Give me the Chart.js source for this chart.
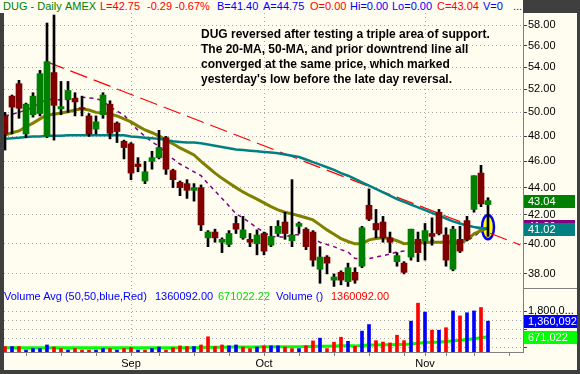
<!DOCTYPE html>
<html>
<head>
<meta charset="utf-8">
<script src="https://cdn.jsdelivr.net/npm/chart.js@4.4.1/dist/chart.umd.min.js"></script>
<style>
  html, body { margin: 0; padding: 0; }
  body {
    width: 580px; height: 374px; position: relative; overflow: hidden;
    background: #3f3f3f; font-family: "Liberation Sans", Arial, sans-serif;
  }
  #head { position: absolute; left: 0; top: 0; width: 523px; height: 13px; background: #fffcf0; }
  .t { position: absolute; font-size: 11px; line-height: 13px; white-space: nowrap; }
  .panel { position: absolute; left: 4px; background: #fffcf0; }
  #pricePanel { top: 13px; width: 573px; height: 275px; }
  #volPanel { top: 288px; width: 573px; height: 82px; }
  #sep { position: absolute; left: 523px; top: 288px; width: 54px; height: 1px; background: #808080; }
  #note {
    position: absolute; left: 201px; top: 27px; font-weight: bold; font-size: 12px;
    line-height: 15px; color: #000; white-space: nowrap;
  }
</style>
</head>
<body>
<div id="head"></div>
<div class="t" style="left:3px;top:0;color:#008000">DUG - Daily</div>
<div class="t" style="left:65px;top:0;color:#008000">AMEX</div>
<div class="t" style="left:100px;top:0;color:#ff0000">L=42.75</div>
<div class="t" style="left:147px;top:0;color:#ff0000">-0.29</div>
<div class="t" style="left:175px;top:0;color:#ff0000">-0.67%</div>
<div class="t" style="left:217px;top:0;color:#0000ff">B=41.40</div>
<div class="t" style="left:263px;top:0;color:#0000ff">A=44.75</div>
<div class="t" style="left:310px;top:0;color:#ff0000">O=0.00</div>
<div class="t" style="left:350px;top:0;color:#0000ff">Hi=0.00</div>
<div class="t" style="left:392px;top:0;color:#0000ff">Lo=0.00</div>
<div class="t" style="left:437px;top:0;color:#ff0000" id="closeTxt">C=43.04</div>
<div class="t" style="left:483px;top:0;color:#0000ff">V=0</div>
<div class="t" style="left:513px;top:0;color:#0000ff">...</div>

<div class="panel" id="pricePanel"><canvas id="price" width="573" height="275"></canvas></div>
<div class="panel" id="volPanel"><canvas id="vol" width="573" height="82"></canvas></div>
<div id="sep"></div>

<div id="note">DUG reversed after testing a triple area of support.<br>The 20-MA, 50-MA, and prior downtrend line all<br>converged at the same price, which marked<br>yesterday's low before the late day reversal.</div>

<div class="t" style="left:4px;top:290px;color:#0000ff">Volume Avg (50,50,blue,Red)</div>
<div class="t" style="left:155px;top:290px;color:#0000ff" id="vTxt1"></div>
<div class="t" style="left:218px;top:290px;color:#00e000" id="vTxt2"></div>
<div class="t" style="left:276px;top:290px;color:#0000ff">Volume ()</div>
<div class="t" style="left:331px;top:290px;color:#ff0000" id="vTxt3"></div>

<script>
// daily candles, Aug .. Nov
const opens = [49.7, 51.4, 52.5, 48.2, 49.8, 49.9, 48.0, 53.5, 50.3, 51.1,
  51.2, 50.4, 49.7, 48.6, 49.8, 50.7, 49.1, 47.6, 47.4, 45.8,
  44.5, 46.0, 46.3, 47.9, 45.3, 44.4, 44.3, 43.8, 44.0, 40.4,
  40.8, 40.1, 39.95, 41.4, 40.4, 40.3, 40.0, 40.7, 39.9, 40.7,
  41.5, 40.2, 41.2, 41.0, 40.8, 38.3, 39.1, 37.6, 38.1, 37.5,
  38.1, 38.5, 42.7, 41.4, 41.5, 40.4, 38.8, 38.7, 39.1, 40.3,
  40.2, 40.7, 42.2, 40.6, 38.3, 40.3, 41.6, 42.4, 45.1, 42.75];
const highs = [50.0, 51.5, 52.8, 50.8, 51.7, 53.7, 58.2, 59.0, 52.7, 52.7,
  51.7, 51.4, 49.9, 49.7, 51.7, 51.0, 49.2, 47.7, 47.5, 46.3,
  46.0, 46.8, 48.5, 48.0, 45.4, 44.5, 44.6, 44.3, 44.2, 40.9,
  41.0, 40.4, 40.9, 41.9, 41.9, 40.7, 40.95, 40.8, 41.2, 41.6,
  42.2, 44.6, 41.5, 41.1, 40.9, 39.8, 39.2, 38.0, 38.2, 38.7,
  38.4, 41.2, 43.9, 42.4, 41.9, 40.8, 39.4, 38.8, 41.0, 40.8,
  41.4, 41.8, 42.4, 41.1, 41.2, 41.2, 41.9, 44.9, 45.7, 43.25];
const lows = [46.9, 48.2, 49.5, 47.9, 49.6, 49.7, 47.9, 47.7, 49.8, 50.0,
  49.7, 49.7, 48.0, 48.2, 49.5, 47.8, 47.5, 46.2, 44.6, 45.2,
  44.3, 45.4, 46.2, 45.0, 44.0, 43.4, 43.2, 43.0, 40.9, 39.8,
  40.1, 39.4, 39.8, 40.7, 40.3, 39.8, 39.25, 39.25, 39.8, 40.5,
  40.3, 39.8, 40.7, 39.6, 38.5, 37.4, 38.0, 37.2, 37.3, 37.2,
  37.4, 38.4, 41.6, 40.4, 40.1, 39.4, 38.5, 38.0, 38.9, 38.8,
  38.9, 39.9, 40.6, 38.5, 38.2, 39.4, 40.2, 42.2, 42.6, 40.5];
const closes = [48.2, 50.45, 50.35, 50.7, 51.4, 53.4, 54.5, 50.6, 50.5, 51.9,
  50.9, 50.3, 48.2, 49.2, 51.5, 48.25, 48.4, 47.1, 45.1, 45.6,
  45.2, 46.3, 47.1, 45.4, 44.6, 44.0, 43.8, 44.0, 41.3, 40.8,
  40.4, 40.3, 40.7, 41.0, 40.95, 40.1, 40.6, 39.5, 40.5, 41.2,
  40.7, 40.6, 41.4, 39.8, 38.9, 39.1, 38.7, 37.8, 37.6, 38.4,
  37.6, 41.1, 41.7, 40.95, 40.4, 40.1, 39.2, 38.1, 41.0, 39.4,
  40.9, 40.5, 40.7, 38.9, 41.0, 39.5, 40.3, 44.9, 42.8, 43.04];
const prevClose = 48.6; // close of the day before the first candle

// moving averages
const ma50 = [47.8, 47.85, 47.9, 47.95, 48.0, 48.0, 48.05, 48.05, 48.05, 48.1,
  48.1, 48.1, 48.1, 48.1, 48.1, 48.1, 48.1, 48.1, 48.0, 47.95,
  47.9, 47.85, 47.8, 47.7, 47.6, 47.55, 47.5, 47.5, 47.45, 47.35,
  47.25, 47.15, 47.05, 46.95, 46.9, 46.85, 46.8, 46.75, 46.7, 46.65,
  46.55, 46.45, 46.35, 46.15, 45.95, 45.75, 45.55, 45.35, 45.1, 44.9,
  44.65, 44.4, 44.15, 43.9, 43.65, 43.4, 43.15, 42.95, 42.75, 42.55,
  42.35, 42.15, 41.95, 41.75, 41.55, 41.4, 41.25, 41.15, 41.08, 41.02];
const ma20 = [48.1, 48.3, 48.45, 48.8, 49.1, 49.45, 49.78, 49.85, 49.95, 50.05,
  50.2, 50.3, 50.2, 50.0, 49.95, 49.86, 49.7, 49.45, 49.2, 48.85,
  48.53, 48.3, 48.04, 47.7, 47.4, 47.07, 46.8, 46.51, 46.0, 45.55,
  45.1, 44.7, 44.35, 44.0, 43.68, 43.4, 43.15, 42.87, 42.6, 42.37,
  42.2, 42.08, 41.95, 41.8, 41.65, 41.3, 40.95, 40.65, 40.35, 40.15,
  39.99, 40.0, 40.26, 40.35, 40.4, 40.35, 40.2, 40.0, 40.03, 40.06,
  40.08, 40.1, 40.1, 40.12, 40.13, 40.13, 40.26, 40.68, 40.9, 41.1];
const ma10 = [49.7, 49.85, 50.0, 50.2, 50.45, 50.8, 51.1, 51.1, 51.06, 51.1,
  51.2, 51.3, 51.25, 51.2, 50.97, 50.5, 50.1, 49.78, 49.1, 48.5,
  48.0, 47.55, 47.2, 46.7, 46.2, 45.8, 45.5, 45.2, 44.9, 44.3,
  43.75, 43.2, 42.65, 42.08, 41.8, 41.45, 41.09, 40.8, 40.5, 40.45,
  40.47, 40.61, 40.61, 40.5, 40.35, 40.1, 39.95, 39.8, 39.6, 39.45,
  39.0, 39.0, 39.0, 39.1, 39.2, 39.3, 39.45, 39.5, 39.6, 39.8,
  40.0, 40.26, 40.1, 40.0, 40.0, 40.0, 40.2, 40.5, 40.88, 41.2];

// downtrend line (bar index, price)
const trendX = [6, 73.6];
const trendY = [54.48, 39.92];

// circled low on the last bar
const markIdx = 69;
const markLow = 40.3;
const markHigh = 42.0;

const volumes = [240000, 240000, 240000, 90000, 150000, 150000, 310000, 220000, 150000, 90000,
  150000, 90000, 90000, 90000, 150000, 150000, 90000, 150000, 190000, 90000,
  90000, 150000, 220000, 90000, 190000, 270000, 240000, 240000, 310000, 670000,
  240000, 310000, 270000, 310000, 220000, 150000, 220000, 270000, 270000, 270000,
  220000, 150000, 150000, 270000, 490000, 610000, 150000, 430000, 650000, 470000,
  250000, 920000, 1210000, 500000, 440000, 400000, 740000, 500000, 1360000, 2150000,
  1760000, 960000, 960000, 1070000, 1810000, 1590000, 1730000, 1810000, 1960000, 1360092];
const volAvg = [190000, 190000, 190000, 190000, 190000, 190000, 190000, 190000, 190000, 190000,
  190000, 190000, 190000, 190000, 190000, 190000, 190000, 190000, 190000, 190000,
  190000, 190000, 190000, 190000, 190000, 190000, 190000, 190000, 200000, 210000,
  210000, 210000, 220000, 220000, 220000, 220000, 220000, 230000, 230000, 230000,
  230000, 230000, 230000, 240000, 240000, 250000, 250000, 260000, 270000, 270000,
  270000, 290000, 310000, 310000, 320000, 320000, 330000, 330000, 350000, 390000,
  420000, 430000, 440000, 460000, 490000, 520000, 550000, 580000, 630000, 671022.22];

// axes
const monthTicks = [18, 37, 60];
const monthNames = ['Sep', 'Oct', 'Nov'];
const weekTicks = [3, 8, 13, 18, 22, 27, 32, 37, 42, 47, 52, 57, 60, 63, 67, 72];
const priceTicks = [38, 40, 42, 44, 46, 48, 50, 52, 54, 56, 58];
const volTicks = [200000, 600000, 1000000, 1400000, 1800000];

const X_MIN = -1 / 7;
const X_MAX = X_MIN + 519 / 7;
const gridGray = '#a8a8a8';
const FONT = "'Liberation Sans', Arial, sans-serif";

Chart.defaults.font.family = FONT;
Chart.defaults.font.size = 11;
Chart.defaults.color = '#000';

const n = closes.length;
const idx = closes.map((_, i) => i);
const bodyColors = closes.map((c, i) => c >= opens[i] ? '#008000' : '#800000');
const volColors = closes.map((c, i) => c >= (i ? closes[i - 1] : prevClose) ? '#0000ff' : '#ff0000');

document.getElementById('vTxt1').textContent = volumes[n - 1].toFixed(2);
document.getElementById('vTxt2').textContent = volAvg[n - 1].toFixed(2);
document.getElementById('vTxt3').textContent = volumes[n - 1].toFixed(2);

function noPad(s) {
    s.paddingTop = 0; s.paddingBottom = 0; s.paddingLeft = 0; s.paddingRight = 0;
}

// coloured value tags on the right axis
const axisTags = {
    id: 'axisTags',
    afterDraw(chart, args, opts) {
        const ctx = chart.ctx;
        const y = chart.scales.y;
        const left = chart.chartArea.right + 1;
        opts.tags.forEach(t => {
            const py = Math.round(y.getPixelForValue(t.value));
            ctx.save();
            ctx.beginPath();
            ctx.rect(left, py - 6, t.w, 13);
            ctx.clip();
            ctx.fillStyle = t.bg;
            ctx.fillRect(left, py - 6, t.w, 13);
            ctx.fillStyle = '#fff';
            ctx.font = '11px ' + FONT;
            ctx.textBaseline = 'middle';
            ctx.fillText(t.text, left + 4, py + 0.5);
            ctx.restore();
        });
    }
};

// yellow ellipse round the last bar's low
const lowMark = {
    id: 'lowMark',
    beforeDatasetsDraw(chart) {
        const ctx = chart.ctx;
        const cx = chart.scales.x.getPixelForValue(markIdx);
        const yTop = chart.scales.y.getPixelForValue(markHigh);
        const yBot = chart.scales.y.getPixelForValue(markLow);
        ctx.save();
        ctx.beginPath();
        ctx.ellipse(cx, (yTop + yBot) / 2, 6, (yBot - yTop) / 2, 0, 0, Math.PI * 2);
        ctx.fillStyle = '#ffff00';
        ctx.fill();
        ctx.lineWidth = 2.5;
        ctx.strokeStyle = '#0000ff';
        ctx.stroke();
        ctx.restore();
    }
};

const xz = v => ({ x: v, y: 0 });

new Chart(document.getElementById('price'), {
    type: 'bar',
    data: {
        datasets: [
            { type: 'bar', data: idx.map(i => ({ x: i, y: [opens[i], closes[i]] })),
              backgroundColor: bodyColors, barThickness: 6, grouped: false, order: 0 },
            { type: 'bar', data: idx.map(i => ({ x: i, y: [lows[i], highs[i]] })),
              backgroundColor: '#000', barThickness: 2, grouped: false, order: 1 },
            { type: 'line', data: idx.map(i => ({ x: i, y: ma50[i] })),
              borderColor: '#008080', borderWidth: 2.5, pointRadius: 0, order: 2 },
            { type: 'line', data: idx.map(i => ({ x: i, y: ma20[i] })),
              borderColor: '#808000', borderWidth: 3, pointRadius: 0, order: 3 },
            { type: 'line', data: idx.map(i => ({ x: i, y: ma10[i] })),
              borderColor: '#800080', borderWidth: 1.5, borderDash: [4, 4], pointRadius: 0, order: 4 },
            { type: 'line', data: trendX.map((x, i) => ({ x: x, y: trendY[i] })),
              borderColor: '#ff0000', borderWidth: 1.2, borderDash: [18, 7], pointRadius: 0, order: 5 }
        ]
    },
    options: {
        responsive: false,
        animation: false,
        devicePixelRatio: 1,
        layout: { padding: 0, autoPadding: false },
        plugins: {
            legend: { display: false },
            tooltip: { enabled: false },
            axisTags: { tags: [
                { value: ma10[n - 1], bg: '#800080', text: ma10[n - 1].toFixed(2), w: 51 },
                { value: ma50[n - 1], bg: '#008080', text: ma50[n - 1].toFixed(2), w: 51 },
                { value: closes[n - 1], bg: '#008000', text: closes[n - 1].toFixed(2), w: 51 }
            ] }
        },
        scales: {
            x: {
                type: 'linear', min: X_MIN, max: X_MAX, offset: false,
                afterBuildTicks: s => { s.ticks = monthTicks.map(v => ({ value: v })); },
                afterFit: s => { s.height = 0; noPad(s); },
                ticks: { display: false },
                grid: { color: gridGray, drawTicks: false, offset: false },
                border: { display: false, dash: [1, 3] }
            },
            y: {
                type: 'logarithmic', position: 'right', min: 37.1, max: 59.2,
                afterBuildTicks: s => { s.ticks = priceTicks.map(v => ({ value: v })); },
                afterFit: s => { s.width = 54; noPad(s); },
                ticks: { callback: v => Number(v).toFixed(2), padding: 1, autoSkip: false, color: '#000' },
                grid: { color: gridGray, tickColor: '#404040', tickLength: 4 },
                border: { display: true, color: '#808080', dash: [1, 3] }
            }
        }
    },
    plugins: [lowMark, axisTags]
});

new Chart(document.getElementById('vol'), {
    type: 'bar',
    data: {
        datasets: [
            { type: 'bar', data: idx.map(i => ({ x: i, y: volumes[i] })),
              backgroundColor: volColors, barThickness: 3, grouped: false, order: 0 },
            { type: 'line', data: idx.map(i => ({ x: i, y: volAvg[i] })),
              borderColor: '#00ff00', borderWidth: 3, pointRadius: 0, order: 1 }
        ]
    },
    options: {
        responsive: false,
        animation: false,
        devicePixelRatio: 1,
        layout: { padding: 0, autoPadding: false },
        plugins: {
            legend: { display: false },
            tooltip: { enabled: false },
            axisTags: { tags: [
                { value: volumes[n - 1], bg: '#0000ff', text: volumes[n - 1].toLocaleString('en-US'), w: 53 },
                { value: volAvg[n - 1], bg: '#00ff00', text: Math.round(volAvg[n - 1]).toLocaleString('en-US'), w: 53 }
            ] }
        },
        scales: {
            x: {
                type: 'linear', min: X_MIN, max: X_MAX, offset: false,
                afterBuildTicks: s => { s.ticks = weekTicks.map(v => ({ value: v })); },
                afterFit: s => { s.height = 18; noPad(s); },
                ticks: {
                    autoSkip: false, maxRotation: 0, padding: 1, color: '#000',
                    callback: v => { const k = monthTicks.indexOf(v); return k >= 0 ? monthNames[k] : ''; }
                },
                grid: {
                    color: c => (c.tick && monthTicks.includes(c.tick.value)) ? gridGray : 'rgba(0,0,0,0)',
                    tickColor: '#808080', tickLength: 4, offset: false
                },
                border: { display: true, color: '#808080', dash: [1, 3] }
            },
            y: {
                type: 'linear', position: 'right', min: 0, max: 2820000,
                afterBuildTicks: s => { s.ticks = volTicks.map(v => ({ value: v })); },
                afterFit: s => { s.width = 54; noPad(s); },
                ticks: { callback: v => v === 1800000 ? '1,800,0...' : '', padding: 1, autoSkip: false, color: '#000' },
                grid: { color: gridGray, tickColor: '#404040', tickLength: 4 },
                border: { display: true, color: '#808080', dash: [1, 3] }
            }
        }
    },
    plugins: [axisTags]
});
</script>
</body>
</html>
